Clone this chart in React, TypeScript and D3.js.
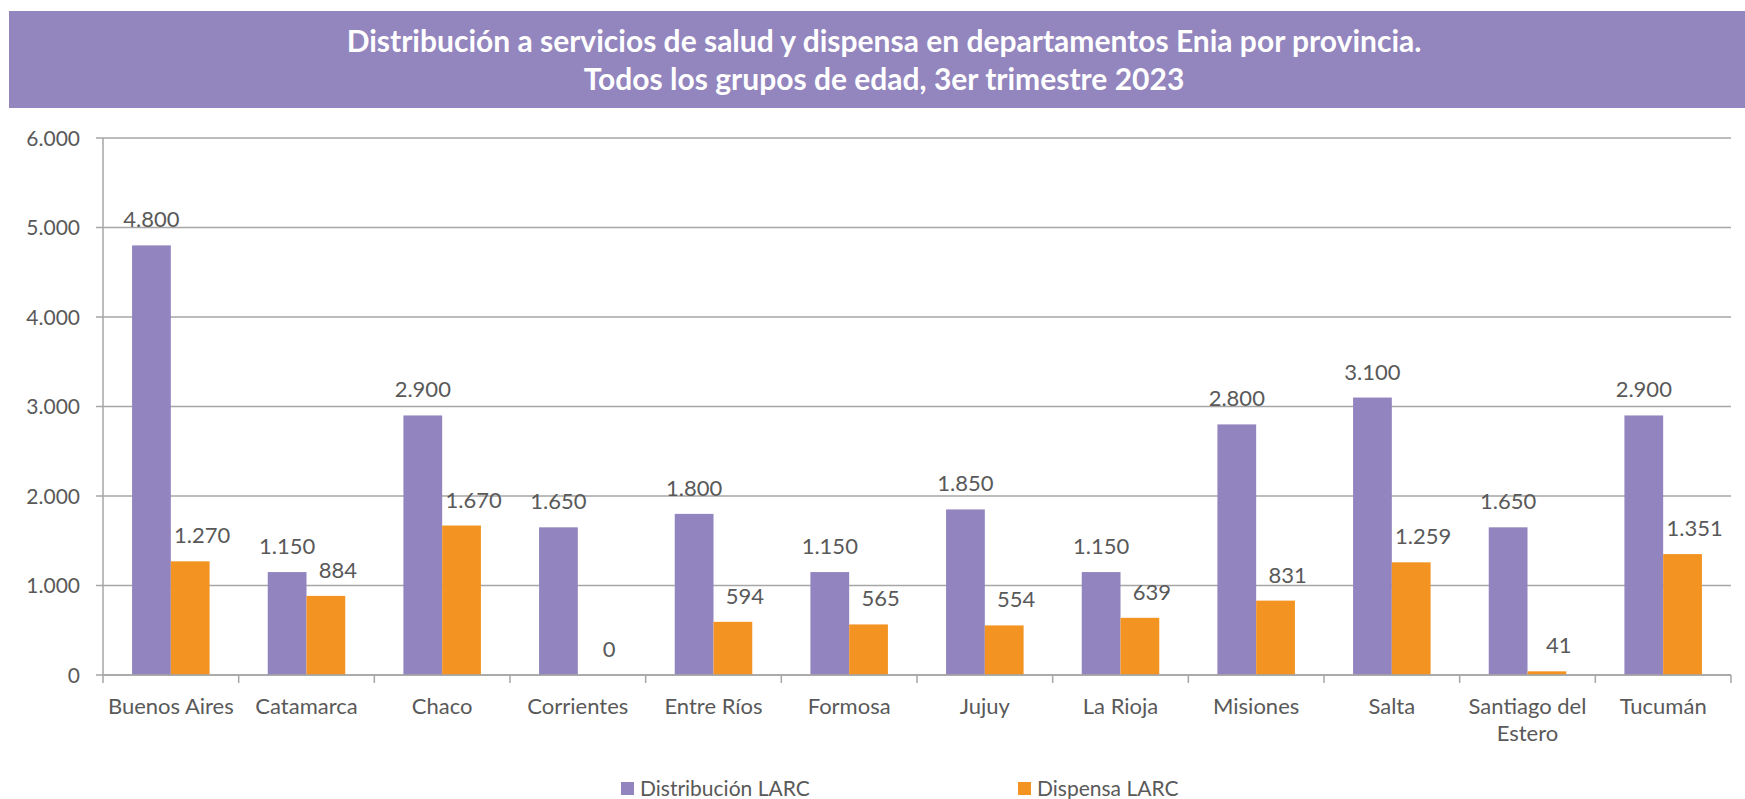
import { useRef, useEffect } from "react";
import * as d3 from "d3";

const provincias = [
  "Buenos Aires", "Catamarca", "Chaco", "Corrientes", "Entre Ríos", "Formosa",
  "Jujuy", "La Rioja", "Misiones", "Salta", "Santiago del Estero", "Tucumán",
];
const distribucion = [4800, 1150, 2900, 1650, 1800, 1150, 1850, 1150, 2800, 3100, 1650, 2900];
const dispensa = [1270, 884, 1670, 0, 594, 565, 554, 639, 831, 1259, 41, 1351];
const series = ["Distribución LARC", "Dispensa LARC"];
const yTicks = [0, 1000, 2000, 3000, 4000, 5000, 6000];
const titulo = [
  "Distribución a servicios de salud y dispensa en departamentos Enia por provincia.",
  "Todos los grupos de edad, 3er trimestre 2023",
];

const W = 1745, H = 799;
const FONT = "Lato, 'Open Sans', sans-serif";
const GRIS = "#595959";
const LINEA = "#A6A6A6";
const colores = ["#9284BE", "#F39322"];

const es = d3.formatLocale({ decimal: ",", thousands: ".", grouping: [3], currency: ["$", ""] });
const fmt = es.format(",d");

function drawChart(svgEl: SVGSVGElement) {
  const svg = d3.select(svgEl);
  svg.selectAll("*").remove();
  svg.attr("viewBox", `0 0 ${W} ${H}`).attr("width", W).attr("height", H);

  const left = 103, right = 1731, top = 138, bottom = 675;

  const x = d3.scaleBand<string>().domain(provincias).range([left, right]);
  const xs = d3.scaleBand<string>().domain(series).range([0, x.bandwidth()]).paddingOuter(0.75);
  const y = d3.scaleLinear().domain([0, 6000]).range([bottom, top]);

  // titulo
  svg.append("rect")
    .attr("x", 9).attr("y", 11).attr("width", W - 9).attr("height", 97)
    .attr("fill", "#9385BD");
  svg.selectAll("text.titulo")
    .data(titulo)
    .join("text")
    .attr("class", "titulo")
    .attr("x", 884)
    .attr("y", (d, i) => 52 + i * 38)
    .attr("text-anchor", "middle")
    .attr("fill", "#fff")
    .attr("font-family", FONT)
    .attr("font-weight", 700)
    .attr("font-size", 30)
    .text(d => d);

  // grilla
  svg.append("g")
    .selectAll("line")
    .data(yTicks)
    .join("line")
    .attr("x1", left - 7).attr("x2", right)
    .attr("y1", d => y(d)).attr("y2", d => y(d))
    .attr("stroke", LINEA).attr("stroke-width", 1.5);

  svg.append("g")
    .selectAll("text")
    .data(yTicks)
    .join("text")
    .attr("x", 80)
    .attr("y", d => y(d))
    .attr("dy", "0.36em")
    .attr("text-anchor", "end")
    .attr("fill", GRIS)
    .attr("font-family", FONT)
    .attr("font-size", 21)
    .text(d => fmt(d));

  // barras
  const filas = provincias.map((p, i) => ({ p, vals: [distribucion[i], dispensa[i]] }));
  const grupos = svg.append("g")
    .selectAll("g")
    .data(filas)
    .join("g")
    .attr("transform", d => `translate(${x(d.p)},0)`);

  grupos.selectAll("rect")
    .data(d => d.vals.map((v, k) => ({ s: series[k], v, k })))
    .join("rect")
    .attr("x", d => xs(d.s)!)
    .attr("width", xs.bandwidth())
    .attr("y", d => y(d.v))
    .attr("height", d => bottom - y(d.v))
    .attr("fill", d => colores[d.k]);

  grupos.selectAll("text")
    .data(d => d.vals.map((v, k) => ({ s: series[k], v, k })))
    .join("text")
    .attr("x", d => xs(d.s)! + xs.bandwidth() / 2 + (d.k === 1 ? 12 : 0))
    .attr("y", d => y(d.v) - 18)
    .attr("text-anchor", "middle")
    .attr("fill", GRIS)
    .attr("font-family", FONT)
    .attr("font-size", 22)
    .text(d => fmt(d.v));

  // ejes
  svg.append("line")
    .attr("x1", left).attr("x2", left).attr("y1", top).attr("y2", bottom)
    .attr("stroke", LINEA).attr("stroke-width", 1.5);
  svg.append("line")
    .attr("x1", left).attr("x2", right).attr("y1", bottom).attr("y2", bottom)
    .attr("stroke", LINEA).attr("stroke-width", 1.5);

  const bordes = provincias.map(p => x(p)!).concat([right]);
  svg.append("g")
    .selectAll("line")
    .data(bordes)
    .join("line")
    .attr("x1", d => d).attr("x2", d => d)
    .attr("y1", bottom).attr("y2", bottom + 8)
    .attr("stroke", LINEA).attr("stroke-width", 1.5);

  const etiquetas = svg.append("g")
    .selectAll("text")
    .data(provincias)
    .join("text")
    .attr("x", d => x(d)! + x.bandwidth() / 2)
    .attr("y", 714)
    .attr("text-anchor", "middle")
    .attr("fill", GRIS)
    .attr("font-family", FONT)
    .attr("font-size", 22);

  // partir en lineas si no entra en la categoria
  etiquetas.each(function (d) {
    const t = d3.select(this);
    const palabras = d.split(" ");
    let linea: string[] = [];
    let ts = t.append("tspan").attr("x", x(d)! + x.bandwidth() / 2).attr("dy", 0);
    for (const w of palabras) {
      linea.push(w);
      ts.text(linea.join(" "));
      if ((ts.node() as SVGTSpanElement).getComputedTextLength() > x.bandwidth() - 8 && linea.length > 1) {
        linea.pop();
        ts.text(linea.join(" "));
        linea = [w];
        ts = t.append("tspan").attr("x", x(d)! + x.bandwidth() / 2).attr("dy", 27).text(w);
      }
    }
  });

  // leyenda
  const ley = svg.append("g")
    .selectAll("g")
    .data(series)
    .join("g")
    .attr("transform", (d, i) => `translate(${[621, 1018][i]},782)`);
  ley.append("rect")
    .attr("width", 13).attr("height", 13)
    .attr("fill", (d, i) => colores[i]);
  ley.append("text")
    .attr("x", 19).attr("y", 14)
    .attr("fill", GRIS)
    .attr("font-family", FONT)
    .attr("font-size", 21)
    .text(d => d);
}

export default function App() {
  const ref = useRef<SVGSVGElement>(null);
  useEffect(() => {
    if (ref.current) drawChart(ref.current);
  }, []);
  return (
    <svg
      ref={ref}
      style={{ position: "absolute", left: 0, top: 0, display: "block", background: "#fff" }}
    />
  );
}
